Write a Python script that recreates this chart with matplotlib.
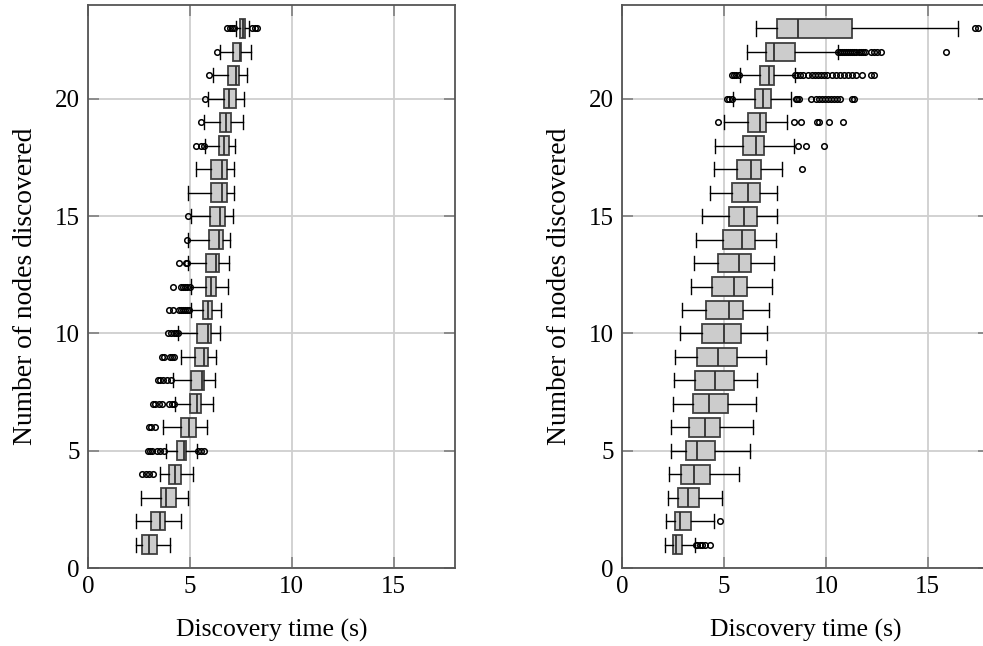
import matplotlib
matplotlib.use("Agg")
import matplotlib.pyplot as plt

plt.rcParams['font.family'] = ['Liberation Serif', 'DejaVu Serif']
plt.rcParams['mathtext.fontset'] = 'stix'

nodes = list(range(1, 24))

# --- left panel: discovery time per node count ---
left_q1 = [2.66, 3.07, 3.59, 3.99, 4.35, 4.58, 5.00, 5.07, 5.26, 5.36, 5.65, 5.77,
           5.80, 5.93, 5.98, 6.01, 6.05, 6.44, 6.50, 6.65, 6.88, 7.09, 7.48]
left_med = [2.99, 3.53, 3.84, 4.28, 4.71, 4.97, 5.36, 5.60, 5.69, 5.88, 5.88, 6.01,
            6.27, 6.42, 6.50, 6.58, 6.58, 6.67, 6.75, 6.94, 7.24, 7.47, 7.60]
left_q3 = [3.37, 3.76, 4.33, 4.54, 4.79, 5.29, 5.54, 5.70, 5.90, 6.01, 6.09, 6.29,
           6.44, 6.63, 6.73, 6.80, 6.83, 6.90, 7.03, 7.24, 7.42, 7.52, 7.70]
left_lo = [2.35, 2.35, 2.61, 3.53, 3.81, 3.69, 4.25, 4.15, 4.54, 4.41, 5.07, 5.03,
           4.92, 4.93, 5.03, 4.93, 5.29, 5.75, 5.70, 5.90, 6.11, 6.50, 7.24]
left_hi = [4.02, 4.54, 4.92, 5.16, 5.36, 5.83, 6.11, 6.24, 6.26, 6.47, 6.52, 6.86,
           6.94, 6.96, 7.11, 7.17, 7.17, 7.22, 7.61, 7.66, 7.81, 8.00, 7.89]
left_fliers = [
    [], [], [],
    [2.66, 2.85, 3.00, 3.20],
    [2.96, 3.05, 3.15, 3.40, 3.55, 3.73, 5.42, 5.55, 5.70],
    [2.99, 3.10, 3.30],
    [3.19, 3.30, 3.50, 3.65, 3.95, 4.10, 4.20],
    [3.43, 3.55, 3.70, 3.90, 4.05],
    [3.61, 3.75, 4.00, 4.10, 4.20],
    [3.94, 4.05, 4.20, 4.30, 4.40],
    [3.97, 4.18, 4.45, 4.55, 4.65, 4.75, 4.85, 4.95],
    [4.18, 4.58, 4.68, 4.78, 4.88, 4.98],
    [4.48, 4.79, 4.87],
    [4.87],
    [4.90],
    [], [],
    [5.31, 5.52, 5.69],
    [5.52],
    [5.72],
    [5.93],
    [6.31],
    [6.83, 6.95, 7.05, 7.16, 8.05, 8.18, 8.30],
]

# --- right panel ---
right_q1 = [2.50, 2.60, 2.75, 2.91, 3.12, 3.30, 3.50, 3.58, 3.66, 3.94, 4.12, 4.41,
            4.72, 4.95, 5.26, 5.41, 5.64, 5.92, 6.19, 6.54, 6.78, 7.08, 7.61]
right_med = [2.66, 2.84, 3.24, 3.51, 3.68, 4.05, 4.25, 4.58, 4.71, 5.00, 5.25, 5.51,
             5.75, 5.88, 6.00, 6.18, 6.32, 6.58, 6.76, 6.90, 7.22, 7.47, 8.63]
right_q3 = [2.94, 3.38, 3.77, 4.33, 4.56, 4.80, 5.21, 5.49, 5.64, 5.82, 5.93, 6.13,
            6.34, 6.50, 6.62, 6.75, 6.81, 6.96, 7.06, 7.30, 7.47, 8.48, 11.29]
right_lo = [2.12, 2.17, 2.27, 2.32, 2.42, 2.42, 2.52, 2.55, 2.61, 2.84, 2.94, 3.37,
            3.55, 3.63, 3.91, 4.30, 4.49, 4.56, 4.98, 5.44, 5.77, 6.11, 6.57]
right_hi = [3.58, 4.53, 4.90, 5.75, 6.26, 6.42, 6.55, 6.62, 7.08, 7.11, 7.22, 7.37,
            7.43, 7.53, 7.58, 7.61, 7.84, 8.42, 8.07, 8.30, 8.46, 10.57, 16.50]
right_fliers = [
    [3.62, 3.70, 3.80, 3.90, 4.05, 4.33],
    [4.82],
    [], [], [], [], [], [], [], [], [], [], [], [], [], [],
    [8.82],
    [8.61, 9.02, 9.92],
    [4.71, 8.45, 8.79, 9.56, 9.64, 10.16, 10.83],
    [5.15, 5.25, 5.39, 8.53, 8.60, 8.66, 9.28, 9.50, 9.65, 9.80, 9.95, 10.10,
     10.25, 10.40, 10.55, 10.70, 11.27, 11.40],
    [5.39, 5.50, 5.60, 5.72, 8.50, 8.60, 8.75, 8.90, 9.10, 9.30, 9.45, 9.60,
     9.75, 9.90, 10.05, 10.30, 10.50, 10.70, 10.90, 11.10, 11.30, 11.50, 11.75,
     12.20, 12.35],
    [10.60, 10.70, 10.80, 10.90, 11.00, 11.10, 11.20, 11.30, 11.40, 11.50, 11.60,
     11.70, 11.80, 11.90, 12.20, 12.35, 12.50, 12.70, 15.90],
    [17.30, 17.45],
]


def make_stats(q1, med, q3, lo, hi, fliers):
    out = []
    for i in range(len(q1)):
        out.append(dict(q1=q1[i], med=med[i], q3=q3[i], whislo=lo[i],
                        whishi=hi[i], fliers=fliers[i]))
    return out


def draw_panel(ax, stats):
    ax.bxp(stats, positions=nodes, vert=False, widths=0.8, capwidths=0.6,
           patch_artist=True, showfliers=True,
           boxprops=dict(facecolor='#cccccc', edgecolor='#404040', linewidth=1.3),
           medianprops=dict(color='#303030', linewidth=1.3),
           whiskerprops=dict(color='black', linewidth=1.0),
           capprops=dict(color='black', linewidth=1.0),
           flierprops=dict(marker='o', markersize=4, markerfacecolor='none',
                           markeredgecolor='black', markeredgewidth=1.1))
    ax.set_xlim(0, 18)
    ax.set_ylim(0, 24)
    ax.set_xticks([0, 5, 10, 15])
    ax.set_xticklabels(['0', '5', '10', '15'])
    ax.set_yticks([0, 5, 10, 15, 20])
    ax.set_yticklabels(['0', '5', '10', '15', '20'])
    ax.set_axisbelow(True)
    ax.grid(True, color='#cfcfcf', linewidth=1.3)
    ax.tick_params(direction='in', length=8, width=1.2, color='#808080',
                   top=True, right=True, labelsize=18, pad=6)
    for s in ax.spines.values():
        s.set_color('#555555')
        s.set_linewidth(1.3)
    ax.set_xlabel('Discovery time (s)', fontsize=18.5, labelpad=15)
    ax.set_ylabel('Number of nodes discovered', fontsize=19.8, labelpad=12)


fig = plt.figure(figsize=(9.83, 6.46), dpi=100)
ax1 = fig.add_axes([0.0895, 0.1207, 0.3733, 0.8715])
ax2 = fig.add_axes([0.6328, 0.1207, 0.3733, 0.8715])

draw_panel(ax1, make_stats(left_q1, left_med, left_q3, left_lo, left_hi, left_fliers))
draw_panel(ax2, make_stats(right_q1, right_med, right_q3, right_lo, right_hi, right_fliers))

fig.savefig('out.png', dpi=100)
